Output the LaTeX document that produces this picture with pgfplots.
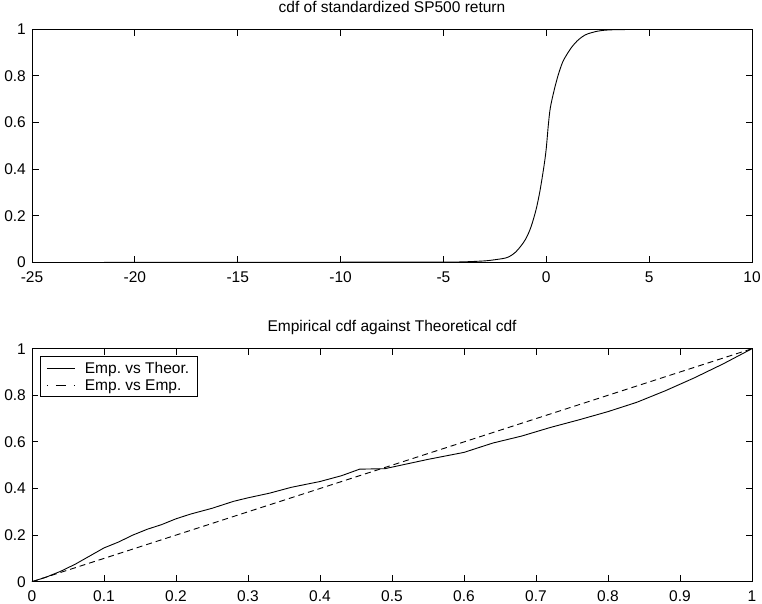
\documentclass[border=0pt]{standalone}
\usepackage{fontspec}
\setmainfont{Liberation Sans}
\usepackage{pgfplots}
\pgfplotsset{compat=1.18}
\frenchspacing
\newcommand{\ff}{\fontsize{15.5}{18}\selectfont}
\pgfplotsset{
  mystyle/.style={
    scale only axis, width=720pt, height=233pt,
    anchor=south west,
    axis line style={line width=0.9pt},
    tick align=inside, major tick length=6.5pt,
    tick style={line width=0.8pt, black},
    every tick label/.append style={font=\ff},
    /pgf/number format/assume math mode=true,
    xticklabel style={anchor=base, yshift=-20pt},
    yticklabel style={anchor=east, inner sep=0pt, xshift=-6pt},
    ymin=0, ymax=1, ytick={0,0.2,0.4,0.6,0.8,1},
    yticklabels={0,0.2,0.4,0.6,0.8,1},
    title style={font=\ff, at={(0.5,1)}, anchor=base, yshift=11pt},
  }
}
\begin{document}
\begin{tikzpicture}
\useasboundingbox (0,0) rectangle (762pt,604pt);
\begin{axis}[mystyle, at={(32pt,341.7pt)},
  xmin=-25, xmax=10,
  xtick={-25,-20,-15,-10,-5,0,5,10},
  xticklabels={-25,-20,-15,-10,-5,0,5,10},
  title={cdf of standardized SP500 return}]
\addplot[black, line width=0.9pt, smooth, tension=0.5] coordinates {
(-21.5,0) (-10,0.0004) (-5,0.001) (-4,0.002) (-3,0.006) (-2.5,0.011)
(-2,0.018) (-1.75,0.027) (-1.5,0.043) (-1.25,0.068) (-1,0.1)
(-0.75,0.15) (-0.5,0.225) (-0.3,0.31) (-0.1,0.42) (0,0.49)
(0.1,0.59) (0.2,0.665) (0.4,0.745) (0.6,0.81) (0.8,0.86)
(1.0,0.892) (1.25,0.925) (1.5,0.95) (1.75,0.968) (2.0,0.98)
(2.5,0.992) (3,0.997) (4,0.999) (8.5,1)
};
\end{axis}
\begin{axis}[mystyle, at={(32pt,22.3pt)},
  xmin=0, xmax=1,
  xtick={0,0.1,0.2,0.3,0.4,0.5,0.6,0.7,0.8,0.9,1},
  xticklabels={0,0.1,0.2,0.3,0.4,0.5,0.6,0.7,0.8,0.9,1},
  title={Empirical cdf against Theoretical cdf},
  legend style={at={(0,1)}, anchor=north west, xshift=8pt, yshift=-7.7pt,
    draw=black, line width=0.9pt, inner xsep=6pt, inner ysep=3pt,
    row sep=1pt, cells={anchor=west},
    nodes={font=\fontsize{15.5}{18}\selectfont}},
  legend image code/.code={\draw[#1] (0pt,0pt) -- (28pt,0pt); \path[draw=none] (0pt,0pt) -- (36pt,0pt);},
  ]
\addplot[black, line width=0.9pt] coordinates {
(0,0) (0.02,0.02) (0.04,0.045) (0.06,0.075) (0.08,0.11) (0.10,0.145)
(0.12,0.17) (0.14,0.20) (0.16,0.225) (0.18,0.245) (0.20,0.27)
(0.22,0.29) (0.25,0.315) (0.28,0.345) (0.30,0.36) (0.33,0.38)
(0.36,0.405) (0.40,0.43) (0.43,0.455) (0.455,0.483) (0.49,0.485)
(0.52,0.505) (0.55,0.525) (0.60,0.555) (0.64,0.595) (0.68,0.625)
(0.72,0.662) (0.76,0.695) (0.80,0.73) (0.84,0.77) (0.88,0.82)
(0.92,0.875) (0.96,0.935) (1.0,1.0)
};
\addlegendentry{Emp. vs Theor.}
\addplot[black, line width=0.9pt, dash pattern=on 6pt off 4pt, forget plot] coordinates {
(0,0) (1,1)
};
\addlegendimage{black, line width=0.9pt, dash pattern=on 1pt off 8pt on 10pt off 8pt on 1pt}
\addlegendentry{Emp. vs Emp.}
\end{axis}
\end{tikzpicture}
\end{document}
